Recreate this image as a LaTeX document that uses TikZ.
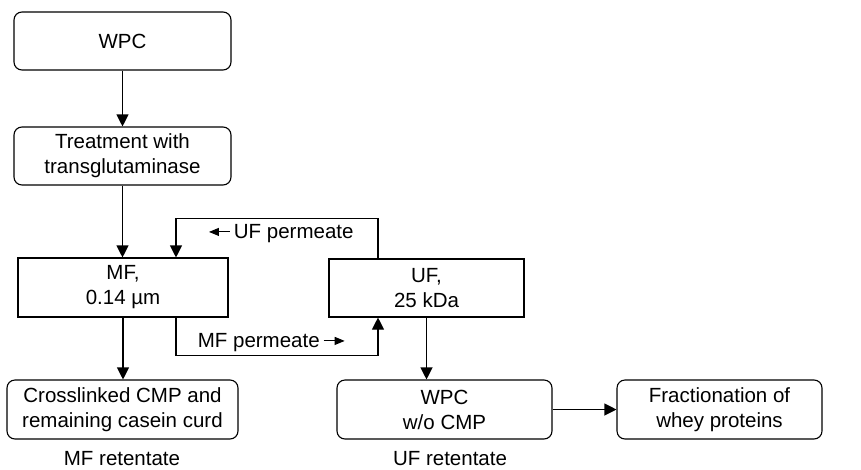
\documentclass[tikz,border=0pt]{standalone}
\usepackage{fontspec}
\setmainfont{Liberation Sans}
\usetikzlibrary{arrows.meta,positioning}

% short arrows that sit inside the permeate labels
\newcommand{\larr}{\tikz[x=1pt,y=1pt,baseline]\draw[line width=1pt,-{Triangle[length=10pt,width=8pt]}] (21,7) -- (0,7);}
\newcommand{\rarr}{\tikz[x=1pt,y=1pt,baseline]\draw[line width=1pt,-{Triangle[length=10pt,width=8pt]}] (0,7) -- (21,7);}

\begin{document}
\begin{tikzpicture}[
  x=1pt, y=-1pt,
  font=\fontsize{20.5}{25}\selectfont,
  box/.style={draw, line width=1.1pt, align=center, inner sep=0pt},
  rbox/.style={box, rounded corners=8pt},
  flow/.style={draw, line width=1.1pt, -{Triangle[length=12pt,width=12pt]}},
  every edge/.style={flow},
  lbl/.style={inner sep=1pt}
]
  \useasboundingbox (0,0) rectangle (861,469);

  \node[rbox, minimum width=217pt, minimum height=58pt] (wpc)   at (122.5,41)  {WPC};
  \node[rbox, minimum width=217pt, minimum height=58pt] (treat) at (122.5,156) {Treatment with\\transglutaminase};
  \node[box,  minimum width=210pt, minimum height=59pt] (mf)    at (123,287.5) {MF,\\0.14 µm};
  \node[box,  minimum width=195pt, minimum height=58pt] (uf)    at (426.5,288) {UF,\\25 kDa};
  \node[rbox, minimum width=231pt, minimum height=59pt] (curd)  at (122.5,409.5) {Crosslinked CMP and\\remaining casein curd};
  \node[rbox, minimum width=215pt, minimum height=59pt] (wpcx)  at (444.5,409.5) {WPC\\w/o CMP};
  \node[rbox, minimum width=205pt, minimum height=59pt] (frac)  at (719.5,409.5) {Fractionation of\\whey proteins};

  \node[lbl] (mfret) at (122,459) {MF retentate};
  \node[lbl] (ufret) at (450,459) {UF retentate};

  \draw (wpc) edge (treat);
  \draw (treat.south) edge (treat.south |- mf.north);
  \draw (mf.south) edge (mf.south |- curd.north);
  \draw (uf.south) edge (uf.south |- wpcx.north);
  \draw (wpcx) edge (frac);

  % recycle loops between the two membranes
  \coordinate (mfin)  at ([xshift=53pt]mf.north);
  \coordinate (mfout) at ([xshift=53pt]mf.south);
  \coordinate (ufout) at ([xshift=-48.5pt]uf.north);
  \coordinate (ufin)  at ([xshift=-48.5pt]uf.south);

  \draw[flow] (ufout) -- ++(0,-40) -| (mfin);
  \draw[flow] (mfout) -- ++(0,38) -| (ufin);

  \node[lbl] (ufperm) at (281,234) {\larr\,UF permeate};
  \node[lbl] (mfperm) at (271.5,343) {MF permeate\,\rarr};
\end{tikzpicture}
\end{document}
